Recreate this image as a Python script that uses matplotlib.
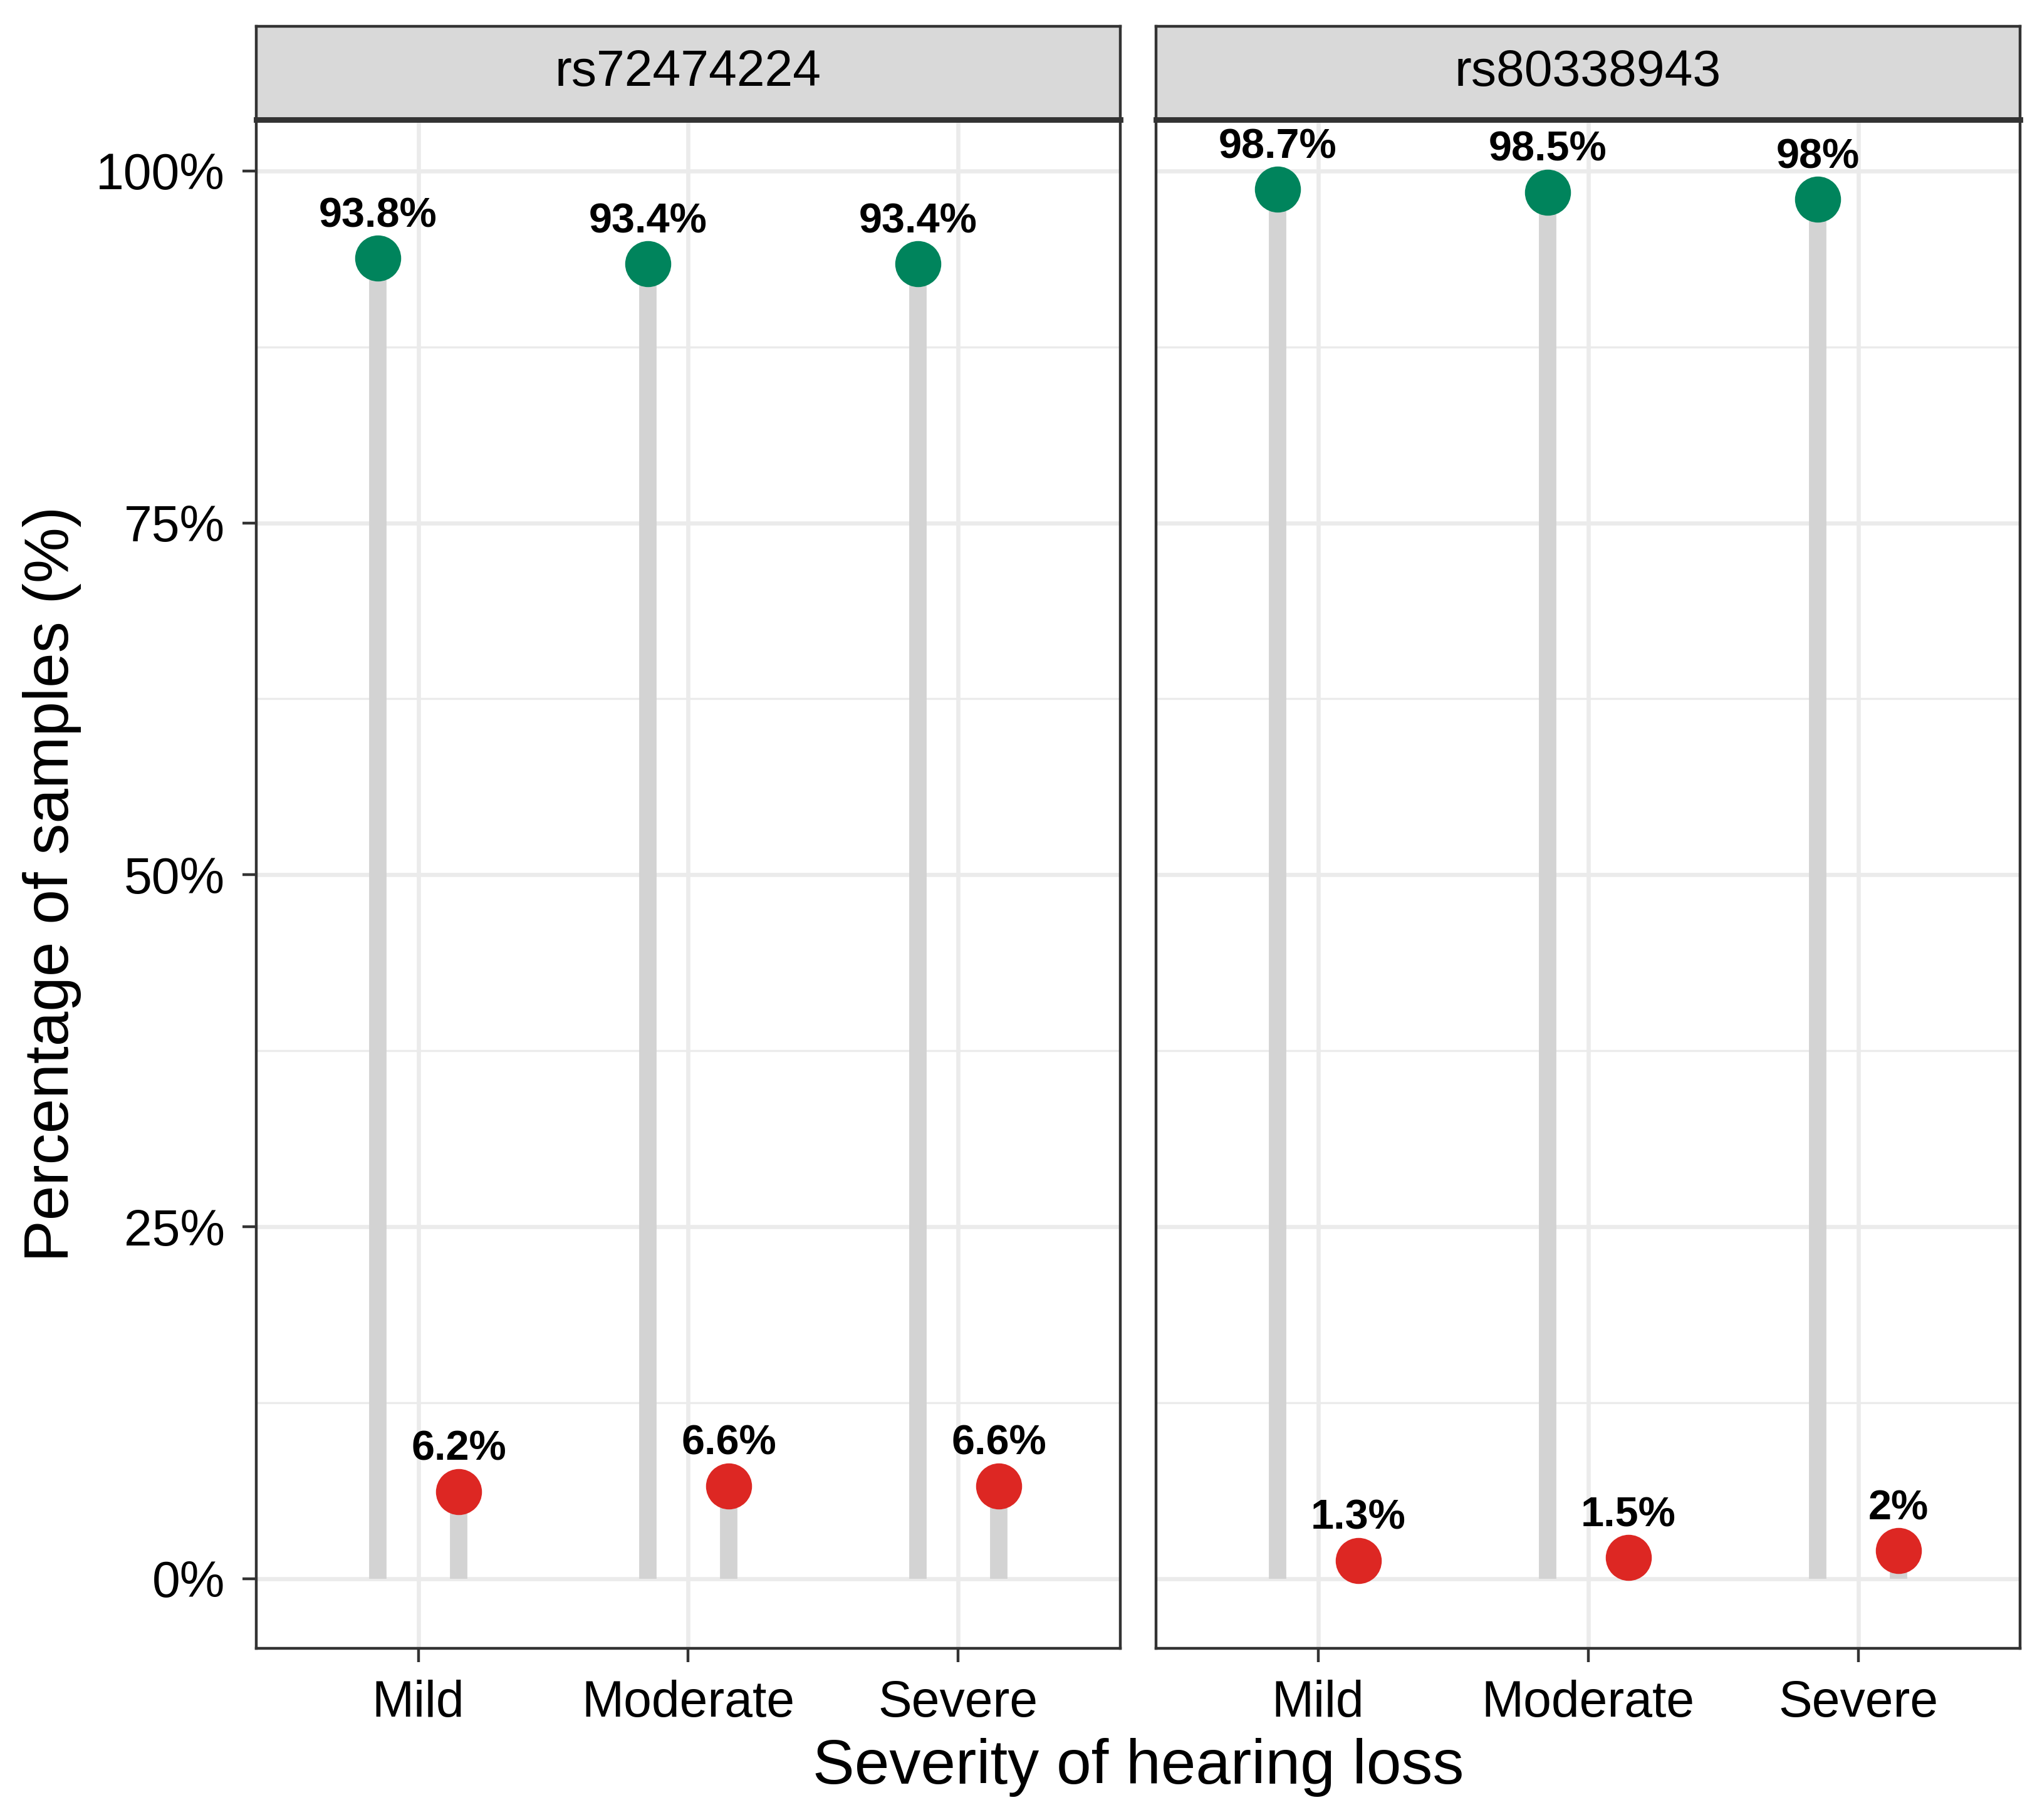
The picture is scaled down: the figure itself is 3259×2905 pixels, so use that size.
import numpy as np
import matplotlib.pyplot as plt

plt.rcParams['font.family'] = ['Liberation Sans', 'DejaVu Sans']

# data
severity = ['Mild', 'Moderate', 'Severe']
snps = ['rs72474224', 'rs80338943']
# percentage of samples per genotype group (green = first group, red = second group)
green_vals = {'rs72474224': [93.8, 93.4, 93.4],
              'rs80338943': [98.7, 98.5, 98.0]}
red_vals = {'rs72474224': [6.2, 6.6, 6.6],
            'rs80338943': [1.3, 1.5, 2.0]}
green_labels = {'rs72474224': ['93.8%', '93.4%', '93.4%'],
                'rs80338943': ['98.7%', '98.5%', '98%']}
red_labels = {'rs72474224': ['6.2%', '6.6%', '6.6%'],
              'rs80338943': ['1.3%', '1.5%', '2%']}
y_ticks = [0, 25, 50, 75, 100]
y_ticklabels = ['0%', '25%', '50%', '75%', '100%']

GREEN = '#00845C'
RED = '#DD2723'
SEG = '#D3D3D3'
GRID = '#EBEBEB'
BORDER = '#333333'

fig = plt.figure(figsize=(3259 / 200, 2905 / 200), dpi=200)

panel_x = [(0.1255, 0.5486), (0.5661, 0.9893)]
y0, y1 = 0.0944, 0.9342
strip_top = 0.9857

x = np.arange(1, len(severity) + 1)
dodge = 0.15

for i, snp in enumerate(snps):
    xa, xb = panel_x[i]
    ax = fig.add_axes([xa, y0, xb - xa, y1 - y0])
    ax.set_xlim(0.4, 3.6)
    ax.set_ylim(-4.935, 103.635)

    # grid
    for yy in [12.5, 37.5, 62.5, 87.5]:
        ax.axhline(yy, color=GRID, lw=1.2, zorder=0)
    for yy in y_ticks:
        ax.axhline(yy, color=GRID, lw=2.4, zorder=0)
    for xx in x:
        ax.axvline(xx, color=GRID, lw=2.4, zorder=0)

    g = green_vals[snp]
    r = red_vals[snp]
    ax.vlines(x - dodge, 0, g, color=SEG, lw=10, zorder=1)
    ax.vlines(x + dodge, 0, r, color=SEG, lw=10, zorder=1)
    ax.scatter(x - dodge, g, s=700, color=GREEN, zorder=3, linewidths=0)
    ax.scatter(x + dodge, r, s=700, color=RED, zorder=3, linewidths=0)

    for xx, yy, lab in zip(x - dodge, g, green_labels[snp]):
        ax.annotate(lab, (xx, yy), xytext=(0, 24), textcoords='offset points',
                    ha='center', va='center', fontsize=24, fontweight='bold')
    for xx, yy, lab in zip(x + dodge, r, red_labels[snp]):
        ax.annotate(lab, (xx, yy), xytext=(0, 24), textcoords='offset points',
                    ha='center', va='center', fontsize=24, fontweight='bold')

    ax.set_xticks(x)
    ax.set_xticklabels(severity, fontsize=29)
    ax.set_yticks(y_ticks)
    if i == 0:
        ax.set_yticklabels(y_ticklabels, fontsize=29)
        ax.tick_params(axis='y', length=8, width=1.6, color=BORDER, pad=10)
    else:
        ax.tick_params(axis='y', left=False, labelleft=False)
    ax.tick_params(axis='x', length=8, width=1.6, color=BORDER, pad=10)

    for sp in ax.spines.values():
        sp.set_color(BORDER)
        sp.set_linewidth(1.6)

    # facet strip
    sax = fig.add_axes([xa, y1, xb - xa, strip_top - y1])
    sax.set_facecolor('#D9D9D9')
    sax.set_xticks([])
    sax.set_yticks([])
    for sp in sax.spines.values():
        sp.set_color(BORDER)
        sp.set_linewidth(1.6)
    sax.spines['bottom'].set_linewidth(3.2)
    sax.text(0.5, 0.5, snp, ha='center', va='center', fontsize=29,
             transform=sax.transAxes)

fig.text(0.0255, (y0 + y1) / 2, 'Percentage of samples (%)', rotation=90,
         ha='center', va='center', fontsize=36)
fig.text((panel_x[0][0] + panel_x[1][1]) / 2, 0.029, 'Severity of hearing loss',
         ha='center', va='center', fontsize=36)

fig.savefig('out.png', dpi=200)
